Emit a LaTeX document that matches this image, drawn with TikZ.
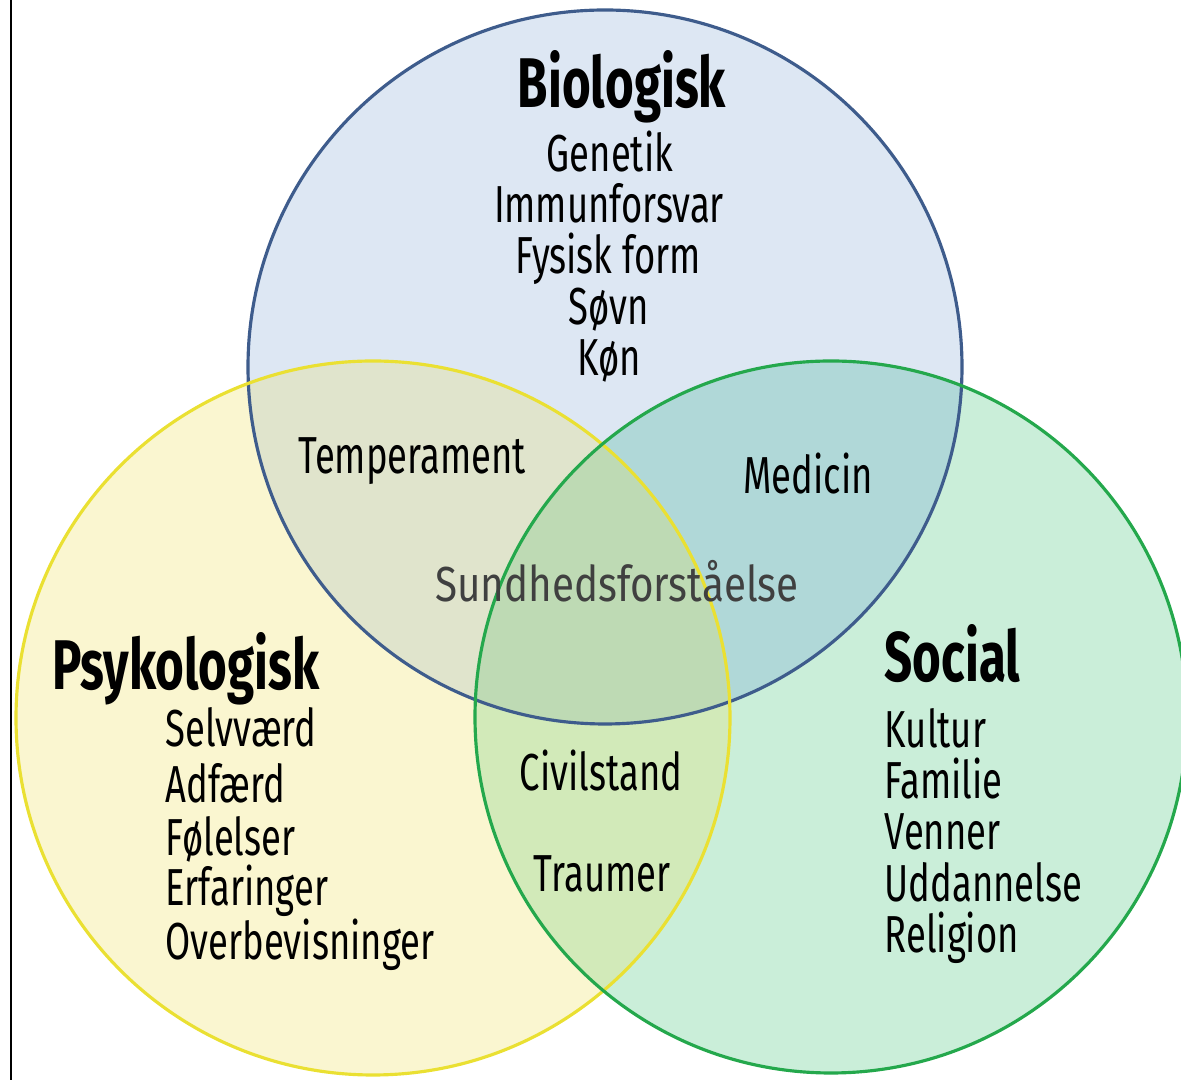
\documentclass[tikz,border=0pt]{standalone}
\usepackage{fontspec}
\setmainfont{Fira Sans}[FakeStretch=0.70]
\newfontfamily\midfont{Fira Sans}[FakeStretch=0.82]
\usetikzlibrary{positioning}

\definecolor{bioline}{RGB}{62,92,140}
\definecolor{biofill}{RGB}{221,231,243}
\definecolor{psyline}{RGB}{234,224,50}
\definecolor{psyfill}{RGB}{250,246,208}
\definecolor{socline}{RGB}{36,168,76}
\definecolor{socfill}{RGB}{202,238,217}
\definecolor{bpfill}{RGB}{224,228,204}
\definecolor{bsfill}{RGB}{176,216,216}
\definecolor{psfill}{RGB}{210,234,185}
\definecolor{allfill}{RGB}{190,218,180}
\definecolor{midgray}{RGB}{64,64,64}

\tikzset{
  title/.style={anchor=base, inner sep=0pt, font=\fontsize{20}{22}\selectfont\bfseries},
  item/.style={anchor=base, inner sep=0pt, font=\fontsize{14.8}{16}\selectfont},
  leftitem/.style={item, anchor=base west},
  ring/.style={line width=0.9pt},
}

\begin{document}
\begin{tikzpicture}[x=0.01cm, y=-0.01cm]
    \useasboundingbox (0,0) rectangle (1181,1080);
    \clip (0,0) rectangle (1181,1080);

    \coordinate (bioc) at (605,367);
    \coordinate (psyc) at (373,718);
    \coordinate (socc) at (831,717);

    % Circles
    \fill[biofill] (bioc) circle (357);
    \fill[psyfill] (psyc) circle (357);
    \fill[socfill] (socc) circle (356);

    % Overlaps
    \begin{scope}
        \clip (psyc) circle (357);
        \fill[psfill] (socc) circle (356);
    \end{scope}
    \begin{scope}
        \clip (bioc) circle (357);
        \fill[bpfill] (psyc) circle (357);
        \fill[bsfill] (socc) circle (356);
        \clip (psyc) circle (357);
        \fill[allfill] (socc) circle (356);
    \end{scope}

    \draw[ring, bioline] (bioc) circle (357);
    \draw[ring, psyline] (psyc) circle (357);
    \draw[ring, socline] (socc) circle (356);

    % Frame line
    \draw[line width=0.6pt] (11,0) -- (11,1080);

    % Biologisk
    \node[title] (bio) at (622,108) {Biologisk};
    \node[item] (genetik) at (610,172) {Genetik};
    \node[item] (immun) at (609,223) {Immunforsvar};
    \node[item] (fysisk) at (608,274) {Fysisk form};
    \node[item] (soevn) at (609,325) {Søvn};
    \node[item] (koen) at (609,376) {Køn};

    % Psykologisk
    \node[title, anchor=base west] (psy) at (52,690) {Psykologisk};
    \node[leftitem] (selv) at (165,747) {Selvværd};
    \node[leftitem] (adf) at (165,803) {Adfærd};
    \node[leftitem] (foel) at (165,856) {Følelser};
    \node[leftitem] (erf) at (165,906) {Erfaringer};
    \node[leftitem] (overb) at (165,960) {Overbevisninger};

    % Social
    \node[title, anchor=base west] (soc) at (884,682) {Social};
    \node[leftitem] (kultur) at (884,748) {Kultur};
    \node[leftitem] (familie) at (884,799) {Familie};
    \node[leftitem] (venner) at (884,850) {Venner};
    \node[leftitem] (uddan) at (884,902) {Uddannelse};
    \node[leftitem] (relig) at (884,953) {Religion};

    % Overlap labels
    \node[item] (temp) at (412,474) {Temperament};
    \node[item] (medicin) at (808,494) {Medicin};
    \node[item] (civil) at (601,791) {Civilstand};
    \node[item] (traum) at (602,892) {Traumer};
    \node[item, text=midgray, font=\fontsize{14}{16}\selectfont\midfont] (sund) at (617,602) {Sundhedsforståelse};
\end{tikzpicture}
\end{document}
